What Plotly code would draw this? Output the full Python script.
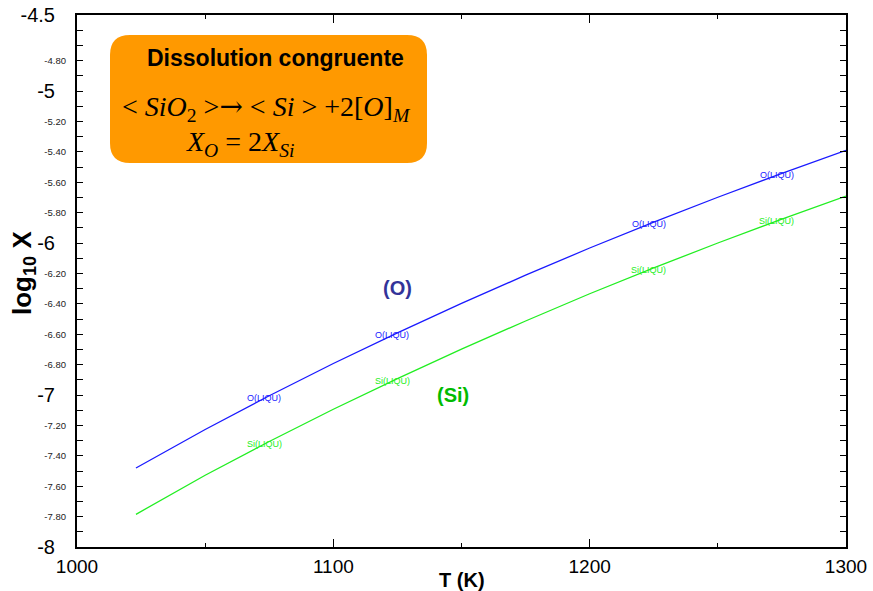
import numpy as np
import plotly.graph_objects as go

# ---- data ----
T_K = [1023, 1050, 1075, 1100, 1125, 1150, 1175, 1200, 1225, 1250, 1275, 1300]
logX_O = [-7.48, -7.227, -7.005, -6.793, -6.591, -6.397, -6.212, -6.033, -5.863, -5.699, -5.542, -5.390]
logX_Si = [-7.785, -7.528, -7.306, -7.094, -6.892, -6.698, -6.513, -6.334, -6.164, -6.000, -5.843, -5.692]

label_T = [1073, 1123, 1223, 1273]
label_O = "O(LIQU)"
label_Si = "Si(LIQU)"

x_tickvals = [1000, 1100, 1200, 1300]
x_ticktext = ["1000", "1100", "1200", "1300"]
y_big_vals = [-8, -7, -6, -5, -4.5]
y_big_text = ["-8", "-7", "-6", "-5", "-4.5"]
y_small_vals = [-7.8, -7.6, -7.4, -7.2, -6.8, -6.6, -6.4, -6.2, -5.8, -5.6, -5.4, -5.2, -4.8]
y_small_text = ["-7.80", "-7.60", "-7.40", "-7.20", "-6.80", "-6.60", "-6.40", "-6.20",
                "-5.80", "-5.60", "-5.40", "-5.20", "-4.80"]

BLUE = "#1a1aff"
GREEN = "#22ee22"

fig = go.Figure()
fig.add_trace(go.Scatter(x=T_K, y=logX_O, mode="lines", line=dict(color=BLUE, width=1.3),
                         showlegend=False, hoverinfo="skip"))
fig.add_trace(go.Scatter(x=T_K, y=logX_Si, mode="lines", line=dict(color=GREEN, width=1.3),
                         showlegend=False, hoverinfo="skip", yaxis="y2"))

annotations = []
for t in label_T:
    annotations.append(dict(x=t, y=float(np.interp(t, T_K, logX_O)), text=label_O, showarrow=False,
                            font=dict(family="Arial", size=9, color=BLUE), xref="x", yref="y"))
    annotations.append(dict(x=t, y=float(np.interp(t, T_K, logX_Si)), text=label_Si, showarrow=False,
                            font=dict(family="Arial", size=9, color=GREEN), xref="x", yref="y"))

arrow = '<span style="font-family:DejaVu Serif;font-style:normal">\u2192</span>'
annotations += [
    dict(x=1125.2, y=-6.296, text="<b>(O)</b>", showarrow=False, xref="x", yref="y",
         font=dict(family="Arial", size=20, color="#333399")),
    dict(x=1146.7, y=-7.0, text="<b>(Si)</b>", showarrow=False, xref="x", yref="y",
         font=dict(family="Arial", size=20, color="#00bb00")),
    dict(x=0.5, y=-33 / 532, text="<b>T (K)</b>", showarrow=False, xref="paper", yref="paper",
         xanchor="center", yanchor="middle", font=dict(family="Arial", size=20, color="black")),
    dict(x=-54 / 769, y=(547 - 273) / 532, text="<b>log<sub>10</sub> X</b>", showarrow=False,
         xref="paper", yref="paper", textangle=-90, xanchor="center", yanchor="middle",
         font=dict(family="Arial", size=26, color="black")),
    # box texts
    dict(x=(275 - 77) / 769, y=(547 - 58) / 532, text="<b>Dissolution congruente</b>", showarrow=False,
         xref="paper", yref="paper", xanchor="center", yanchor="middle",
         font=dict(family="Arial", size=23, color="black")),
    dict(x=(266 - 77) / 769, y=(547 - 108) / 532,
         text="&lt; <i>SiO</i><sub>2</sub> &gt;" + arrow + " &lt; <i>Si</i> &gt; +2[<i>O</i>]<sub><i>M</i></sub>",
         showarrow=False, xref="paper", yref="paper", xanchor="center", yanchor="middle",
         font=dict(family="Liberation Serif", size=28, color="black")),
    dict(x=(240 - 77) / 769, y=(547 - 144) / 532,
         text="<i>X</i><sub><i>O</i></sub> = 2<i>X</i><sub><i>Si</i></sub>",
         showarrow=False, xref="paper", yref="paper", xanchor="center", yanchor="middle",
         font=dict(family="Liberation Serif", size=28, color="black")),
]

# rounded orange box (paper coords)
W, H = 769.0, 532.0
x0, x1 = (110 - 77) / W, (427 - 77) / W
y0, y1 = (547 - 163) / H, (547 - 35) / H
rx, ry = 20 / W, 20 / H
path = (f"M {x0+rx},{y0} L {x1-rx},{y0} Q {x1},{y0} {x1},{y0+ry} L {x1},{y1-ry} "
        f"Q {x1},{y1} {x1-rx},{y1} L {x0+rx},{y1} Q {x0},{y1} {x0},{y1-ry} "
        f"L {x0},{y0+ry} Q {x0},{y0} {x0+rx},{y0} Z")

fig.update_layout(
    width=873, height=591,
    margin=dict(l=77, r=27, t=15, b=44, autoexpand=False),
    paper_bgcolor="white", plot_bgcolor="white",
    showlegend=False,
    font=dict(family="Arial", color="black"),
    shapes=[dict(type="path", path=path, xref="paper", yref="paper",
                 fillcolor="#ff9900", line=dict(width=0), layer="above")],
    annotations=annotations,
    xaxis=dict(range=[1000, 1300], tickmode="array", tickvals=x_tickvals, ticktext=x_ticktext,
               tickfont=dict(family="Arial", size=19, color="black"),
               ticks="inside", ticklen=8, tickwidth=1.2, tickcolor="black",
               minor=dict(tickmode="array", tickvals=[1050, 1150, 1250], ticks="inside", ticklen=4,
                          tickwidth=1.2, tickcolor="black"),
               showline=True, linecolor="black", linewidth=2, mirror="ticks",
               showgrid=False, zeroline=False, ticklabelstandoff=1, automargin=False),
    yaxis=dict(range=[-8, -4.5], tickmode="array", tickvals=y_big_vals, ticktext=y_big_text,
               tickfont=dict(family="Arial", size=20, color="black"),
               ticks="inside", ticklen=6, tickwidth=1.2, tickcolor="black",
               minor=dict(tickmode="array", tickvals=[round(v, 1) for v in np.arange(-7.9, -4.55, 0.1)],
                          ticks="inside", ticklen=6, tickwidth=1.2, tickcolor="black"),
               showline=True, linecolor="black", linewidth=2, mirror="ticks",
               showgrid=False, zeroline=False, ticklabelstandoff=16, automargin=False),
    yaxis2=dict(range=[-8, -4.5], overlaying="y", side="left", anchor="x",
                tickmode="array", tickvals=y_small_vals, ticktext=y_small_text,
                tickfont=dict(family="Arial", size=9.5, color="#222222"),
                ticks="", showline=False, showgrid=False, zeroline=False, ticklabelstandoff=10,
                automargin=False),
)

fig.write_html("out.html", config={"displayModeBar": False},
               post_script="document.body.style.margin='0';document.body.style.padding='0';")
